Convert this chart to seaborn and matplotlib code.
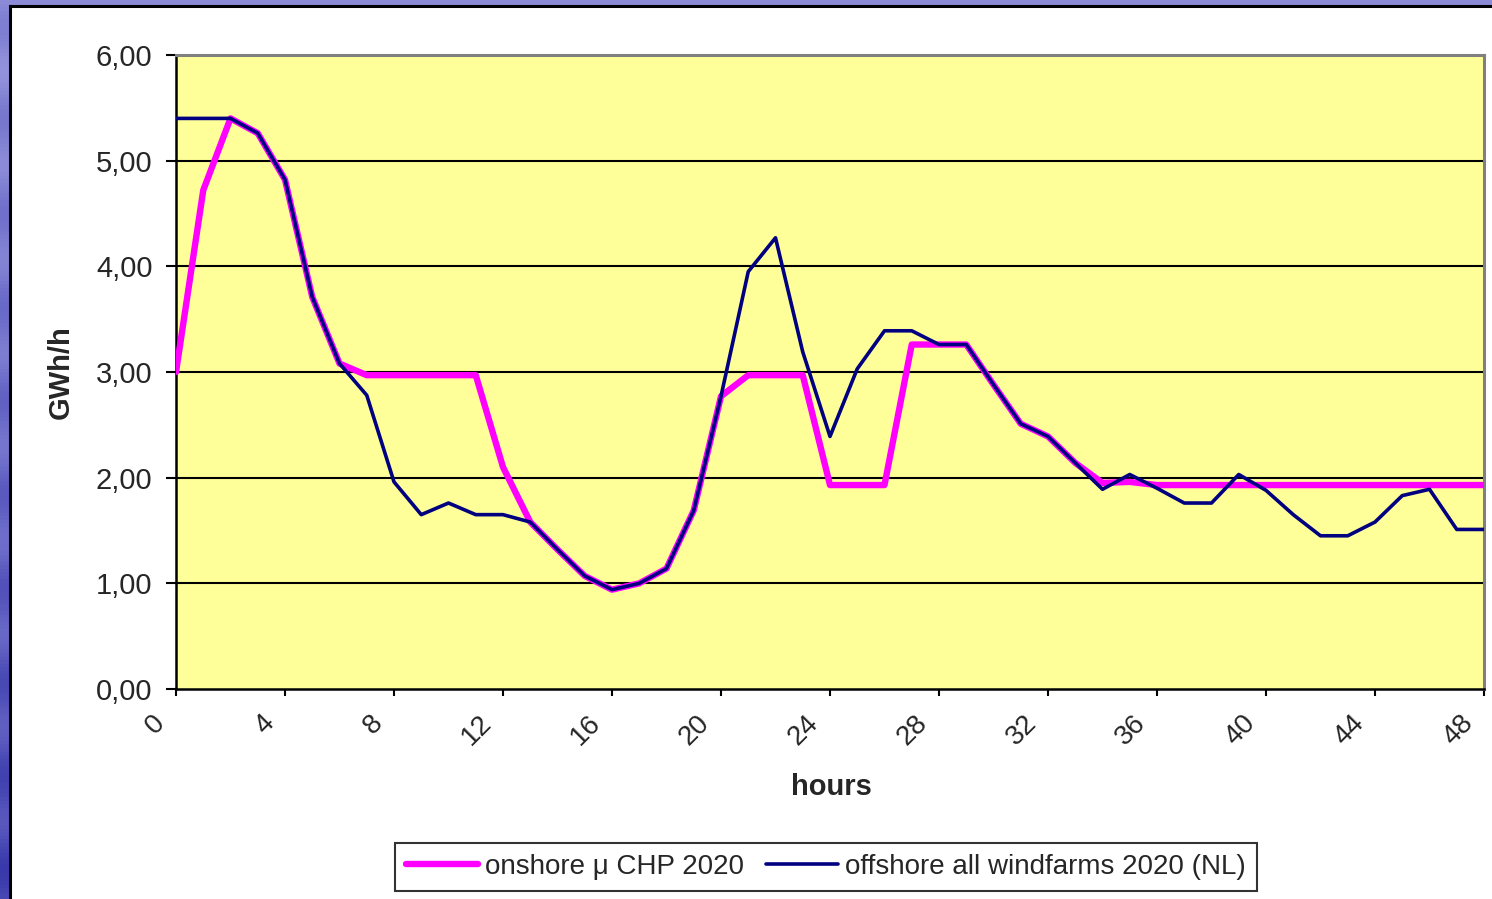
import numpy as np
import pandas as pd
import matplotlib
matplotlib.use("Agg")
import matplotlib.pyplot as plt
from matplotlib.patches import Rectangle
from matplotlib.transforms import ScaledTranslation
import seaborn as sns

# Hourly output over two days (GWh/h)
hours = list(range(49))
onshore_chp = [3.00, 4.72, 5.40, 5.26, 4.82, 3.71, 3.08, 2.97, 2.97, 2.97,
               2.97, 2.97, 2.10, 1.58, 1.32, 1.07, 0.94, 1.00, 1.14, 1.69,
               2.77, 2.97, 2.97, 2.97, 1.93, 1.93, 1.93, 3.26, 3.26, 3.26,
               2.88, 2.51, 2.39, 2.14, 1.95, 1.96, 1.93, 1.93, 1.93, 1.93,
               1.93, 1.93, 1.93, 1.93, 1.93, 1.93, 1.93, 1.93, 1.93]
offshore_wind = [5.40, 5.40, 5.40, 5.26, 4.82, 3.71, 3.08, 2.78, 1.96, 1.65,
                 1.76, 1.65, 1.65, 1.58, 1.32, 1.07, 0.94, 1.00, 1.14, 1.69,
                 2.77, 3.95, 4.27, 3.19, 2.39, 3.03, 3.39, 3.39, 3.26, 3.26,
                 2.88, 2.51, 2.39, 2.14, 1.89, 2.03, 1.90, 1.76, 1.76, 2.03,
                 1.88, 1.65, 1.45, 1.45, 1.58, 1.83, 1.89, 1.51, 1.51]
series_names = ["onshore \u03bc CHP 2020", "offshore all windfarms 2020 (NL)"]
x_ticks = list(range(0, 49, 4))
y_ticks = [0, 1, 2, 3, 4, 5, 6]

sns.set_theme(style="white")
plt.rcParams["font.family"] = ["Liberation Sans", "DejaVu Sans"]

W, H = 1492, 899
fig = plt.figure(figsize=(W / 100, H / 100), dpi=100)

# Blue slide background with a white chart panel on top
bg = fig.add_axes([0, 0, 1, 1], zorder=-10)
grad = np.linspace(0, 1, 256).reshape(-1, 1)
stripes = 0.12 * np.sin(np.linspace(0, 60, 256)).reshape(-1, 1)
vals = np.clip(grad * 0.7 + stripes + 0.15, 0, 1)
cmap = matplotlib.colors.LinearSegmentedColormap.from_list(
    "slide", ["#9a9ae0", "#6a6ac8", "#3434a8"])
bg.imshow(vals * np.ones((1, 4)), aspect="auto", cmap=cmap,
          extent=[0, 1, 0, 1], vmin=0, vmax=1)
bg.add_patch(Rectangle((10 / W, -0.05), 1.1, 1.05 - 6 / H,
                       transform=bg.transAxes, facecolor="white",
                       edgecolor="black", linewidth=2.2))
bg.set_xlim(0, 1)
bg.set_ylim(0, 1)
bg.axis("off")

left, right, top, bottom = 176, 1484, 55, 689
ax = fig.add_axes([left / W, 1 - bottom / H, (right - left) / W, (bottom - top) / H])
ax.set_facecolor("#FFFF99")

df = pd.DataFrame({
    "hours": hours * 2,
    "value": onshore_chp + offshore_wind,
    "series": [series_names[0]] * len(hours) + [series_names[1]] * len(hours),
})

sns.lineplot(data=df[df["series"] == series_names[0]], x="hours", y="value",
             color="#FF00FF", linewidth=4.6, ax=ax, label=series_names[0],
             zorder=3)
sns.lineplot(data=df[df["series"] == series_names[1]], x="hours", y="value",
             color="#000080", linewidth=2.6, ax=ax, label=series_names[1],
             zorder=4)

ax.set_xlim(0, 48)
ax.set_ylim(0, 6)
ax.set_xticks(x_ticks)
ax.set_yticks(y_ticks)
ax.set_yticklabels([f"{v:.2f}".replace(".", ",") for v in y_ticks], fontsize=21)
for y in y_ticks[1:-1]:
    ax.axhline(y, color="black", linewidth=1.5, zorder=1)

ax.tick_params(axis="y", direction="out", length=7, width=1.5, color="black",
               pad=10, left=True)
ax.tick_params(axis="x", direction="out", length=5, width=1.5, color="black",
               pad=16, bottom=True)

ax.set_xticklabels([str(t) for t in x_ticks], rotation=45, ha="right",
                   va="center", rotation_mode="anchor", fontsize=20)
shift = ScaledTranslation(-15 / 100, -1 / 100, fig.dpi_scale_trans)
for tick in ax.xaxis.get_major_ticks():
    tick.label1.set_transform(tick.label1.get_transform() + shift)

for side in ["left", "bottom"]:
    ax.spines[side].set_color("black")
    ax.spines[side].set_linewidth(1.8)
for side in ["top", "right"]:
    ax.spines[side].set_color("#808080")
    ax.spines[side].set_linewidth(2.2)

ax.set_xlabel("hours", fontsize=21, fontweight="bold")
ax.set_ylabel("GWh/h", fontsize=21, fontweight="bold")
ax.xaxis.set_label_coords((831 - left) / (right - left), -(773 - bottom) / (bottom - top))
ax.yaxis.set_label_coords(-(left - 75) / (right - left), (bottom - 372) / (bottom - top))

handles, labels = ax.get_legend_handles_labels()
ax.legend_.remove()
leg = fig.legend(handles, labels, loc="center", ncol=2,
                 bbox_to_anchor=(826 / W, 1 - 867 / H), fontsize=20,
                 frameon=True, fancybox=False, edgecolor="black",
                 handlelength=2.6, handletextpad=0.25, columnspacing=0.8,
                 borderpad=0.4)
leg.get_frame().set_linewidth(1.5)

fig.savefig("out.png", dpi=100)
